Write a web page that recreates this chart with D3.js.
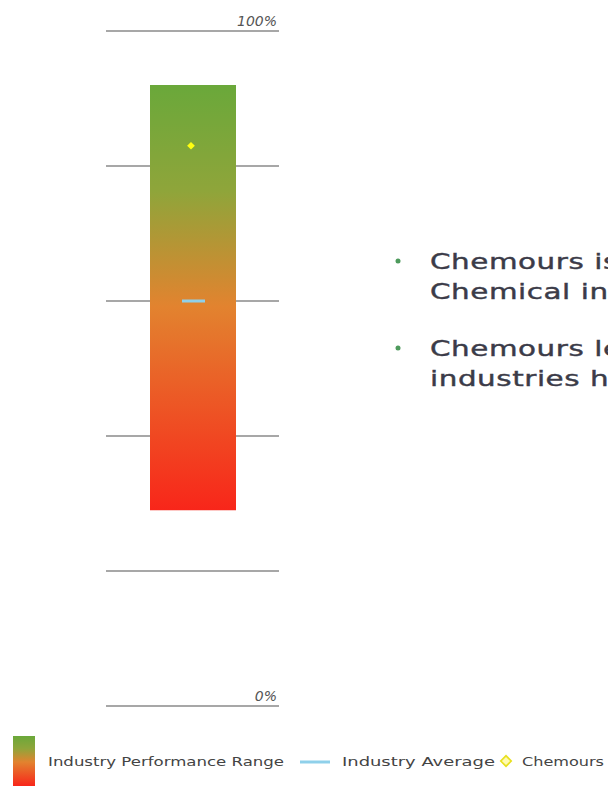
<!DOCTYPE html>
<html><head><meta charset="utf-8">
<script src="https://cdn.jsdelivr.net/npm/d3@7"></script>
<style>html,body{margin:0;padding:0;background:#fff;overflow:hidden}</style>
</head><body>
<svg id="c" width="608" height="786"></svg>
<script>
// ---- data ----
const gridValues = [0, 20, 40, 60, 80, 100];
const tickLabels = [{v: 100, t: "100%"}, {v: 0, t: "0%"}];
const rangeLow = 29;
const rangeHigh = 92;
const industryAverage = 60;
const chemoursValue = 83;
const bullets = [
  ["Chemours is among the leaders of the", "Chemical industry in safety"],
  ["Chemours leads peers in other", "industries here"]
];
const legendItems = ["Industry Performance Range", "Industry Average", "Chemours"];

const svg = d3.select("#c");
const y = d3.scaleLinear().domain([0, 100]).range([706, 31]);
const x = d3.scaleLinear().domain([0, 1]).range([106, 279]);

const defs = svg.append("defs");
const grad = defs.append("linearGradient").attr("id", "g").attr("x1", 0).attr("y1", 0).attr("x2", 0).attr("y2", 1);
grad.append("stop").attr("offset", "0%").attr("stop-color", "#6aa83a");
grad.append("stop").attr("offset", "25%").attr("stop-color", "#8fa53a");
grad.append("stop").attr("offset", "52%").attr("stop-color", "#e2832f");
grad.append("stop").attr("offset", "100%").attr("stop-color", "#f8261a");

// grid lines
svg.append("g").selectAll("line").data(gridValues).join("line")
  .attr("x1", x(0)).attr("x2", x(1))
  .attr("y1", d => y(d)).attr("y2", d => y(d))
  .attr("stroke", "#8a8a8a").attr("stroke-width", 1.5);

// tick labels
svg.append("g").selectAll("text").data(tickLabels).join("text")
  .attr("x", x(1) - 2).attr("y", d => y(d.v) - 5)
  .attr("text-anchor", "end")
  .attr("font-family", "DejaVu Sans, Verdana, sans-serif")
  .attr("font-style", "italic").attr("font-size", 14).attr("fill", "#555")
  .text(d => d.t);

// range bar
const bx = d3.scaleLinear().domain([0, 1]).range([150, 236]);
svg.append("rect")
  .attr("x", bx(0)).attr("width", bx(1) - bx(0))
  .attr("y", y(rangeHigh)).attr("height", y(rangeLow) - y(rangeHigh))
  .attr("fill", "url(#g)");

// industry average
svg.append("line")
  .attr("x1", 182).attr("x2", 205)
  .attr("y1", y(industryAverage)).attr("y2", y(industryAverage))
  .attr("stroke", "#8fd0ea").attr("stroke-width", 3);

// chemours marker
svg.append("path")
  .attr("d", d3.symbol(d3.symbolSquare, 30)())
  .attr("transform", `translate(191,${y(chemoursValue)}) rotate(45)`)
  .attr("fill", "#ffff10");

// bullets
const bg = svg.append("g").attr("transform", "translate(430,0) scale(1.4,1)");
const lineY = [[269, 299], [356, 386]];
bullets.forEach((b, i) => {
  svg.append("circle").attr("cx", 398).attr("cy", lineY[i][0] - 8).attr("r", 2.5).attr("fill", "#4e9a5c");
  b.forEach((t, j) => {
    bg.append("text").attr("x", 0).attr("y", lineY[i][j])
      .attr("font-family", "DejaVu Sans, Verdana, sans-serif")
      .attr("font-size", 21).attr("fill", "#3b3b48")
      .attr("stroke", "#3b3b48").attr("stroke-width", 0.4)
      .attr("letter-spacing", 0.4)
      .text(t);
  });
});

// legend
svg.append("rect").attr("x", 13).attr("y", 736).attr("width", 22).attr("height", 50).attr("fill", "url(#g)");
const lf = {"font-family": "DejaVu Sans, Verdana, sans-serif", "font-size": 13, "fill": "#444"};
function ltext(xp, w, t) {
  const e = svg.append("text").attr("x", xp).attr("y", 766).attr("textLength", w).attr("lengthAdjust", "spacingAndGlyphs").text(t);
  Object.entries(lf).forEach(([k, v]) => e.attr(k, v));
}
ltext(48, 236, legendItems[0]);
svg.append("line").attr("x1", 300).attr("x2", 330).attr("y1", 762).attr("y2", 762).attr("stroke", "#8fd0ea").attr("stroke-width", 3);
ltext(342, 153, legendItems[1]);
svg.append("path").attr("d", d3.symbol(d3.symbolSquare, 55)())
  .attr("transform", "translate(506,761) rotate(45)")
  .attr("fill", "#fffbb0").attr("stroke", "#e8e020").attr("stroke-width", 1.6);
ltext(522, 82, legendItems[2]);
</script>
</body></html>
